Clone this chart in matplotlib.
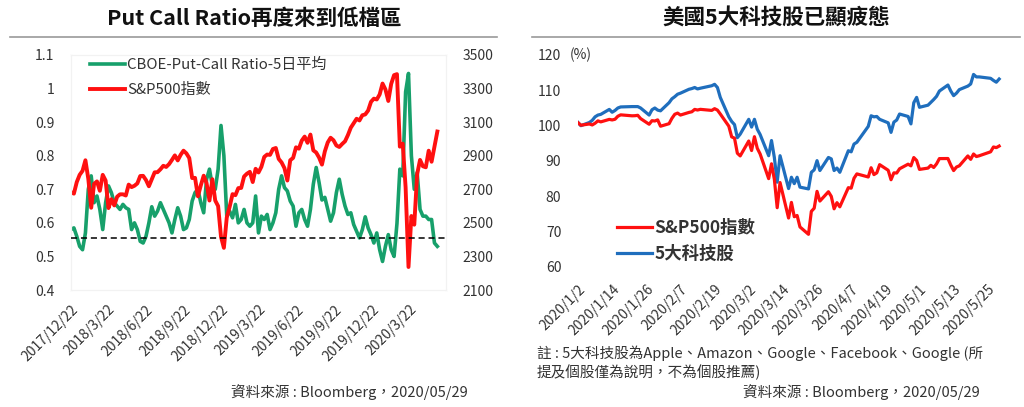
import matplotlib
matplotlib.use('Agg')
import matplotlib.pyplot as plt
import matplotlib.ticker as mticker
import pandas as pd

plt.rcParams['font.family'] = ['Noto Sans CJK TC', 'DejaVu Sans']

# ---------------- Left chart data (weekly, Fridays from 2017/12/22) ----------------
pcr_start = '2017-12-22'
pcr_5d_avg = [
    0.58, 0.585, 0.56, 0.53, 0.52, 0.57, 0.70, 0.74, 0.66, 0.68,
    0.64, 0.58, 0.66, 0.71, 0.69, 0.66, 0.65, 0.64, 0.655, 0.645,
    0.64, 0.58, 0.60, 0.58, 0.545, 0.54, 0.56, 0.60, 0.648, 0.62,
    0.635, 0.66, 0.64, 0.62, 0.60, 0.57, 0.61, 0.645, 0.62, 0.58,
    0.585, 0.61, 0.665, 0.69, 0.70, 0.66, 0.63, 0.73, 0.76, 0.71,
    0.70, 0.76, 0.89, 0.80, 0.62, 0.635, 0.615, 0.655, 0.60, 0.61,
    0.64, 0.60, 0.59, 0.60, 0.68, 0.57, 0.62, 0.61, 0.625, 0.58,
    0.60, 0.63, 0.70, 0.74, 0.705, 0.695, 0.665, 0.65, 0.59, 0.63,
    0.64, 0.61, 0.59, 0.64, 0.715, 0.765, 0.72, 0.668, 0.676, 0.64,
    0.605, 0.63, 0.69, 0.73, 0.685, 0.65, 0.625, 0.63, 0.595, 0.575,
    0.555, 0.58, 0.618, 0.585, 0.565, 0.54, 0.57, 0.52, 0.485, 0.53,
    0.565, 0.52, 0.50, 0.598, 0.76, 0.74, 0.99, 1.045, 0.80, 0.70,
    0.75, 0.64, 0.62, 0.62, 0.61, 0.61, 0.54, 0.53,
]
spx_weekly = [
    2683, 2674, 2743, 2786, 2810, 2873, 2762, 2590, 2732, 2747,
    2691, 2786, 2752, 2588, 2641, 2604, 2656, 2670, 2670, 2663,
    2728, 2713, 2721, 2735, 2779, 2780, 2755, 2718, 2760, 2801,
    2802, 2819, 2840, 2833, 2850, 2875, 2902, 2872, 2905, 2930,
    2914, 2886, 2767, 2768, 2658, 2723, 2781, 2736, 2633, 2760,
    2633, 2600, 2417, 2351, 2532, 2596, 2671, 2665, 2707, 2708,
    2776, 2793, 2804, 2743, 2822, 2800, 2834, 2893, 2907, 2905,
    2940, 2946, 2881, 2860, 2826, 2752, 2873, 2887, 2950, 2942,
    2990, 3014, 2977, 3026, 2932, 2919, 2889, 2847, 2926, 2979,
    3007, 2992, 2961, 2952, 2970, 2986, 3023, 3067, 3093, 3120,
    3110, 3141, 3146, 3169, 3221, 3240, 3235, 3265, 3330, 3295,
    3226, 3328, 3380, 3386, 2954, 2972, 2711, 2237, 2541, 2489,
    2790, 2875, 2837, 2831, 2930, 2864, 2955, 3044,
]
pcr_low_zone = 0.555
left_xticks = ['2017-12-22', '2018-03-22', '2018-06-22', '2018-09-22', '2018-12-22',
               '2019-03-22', '2019-06-22', '2019-09-22', '2019-12-22', '2020-03-22']

# ---------------- Right chart data (daily, index 2019/12/31 = 100) ----------------
trade_dates = (
    ['2020-01-%02d' % d for d in [2, 3, 6, 7, 8, 9, 10, 13, 14, 15, 16, 17, 21, 22, 23, 24, 27, 28, 29, 30, 31]] +
    ['2020-02-%02d' % d for d in [3, 4, 5, 6, 7, 10, 11, 12, 13, 14, 18, 19, 20, 21, 24, 25, 26, 27, 28]] +
    ['2020-03-%02d' % d for d in [2, 3, 4, 5, 6, 9, 10, 11, 12, 13, 16, 17, 18, 19, 20, 23, 24, 25, 26, 27, 30, 31]] +
    ['2020-04-%02d' % d for d in [1, 2, 3, 6, 7, 8, 9, 13, 14, 15, 16, 17, 20, 21, 22, 23, 24, 27, 28, 29, 30]] +
    ['2020-05-%02d' % d for d in [1, 4, 5, 6, 7, 8, 11, 12, 13, 14, 15, 18, 19, 20, 21, 22, 26, 27, 28, 29]]
)
spx_rel = [
    100.84, 100.13, 100.48, 100.20, 100.69, 101.36, 101.07, 101.78, 101.62, 101.81,
    102.66, 103.06, 102.79, 102.82, 102.93, 102.00, 100.40, 101.41, 101.32, 101.64, 99.84,
    100.56, 102.07, 103.22, 103.56, 103.00, 103.75, 103.93, 104.60, 104.43, 104.62,
    104.32, 104.81, 104.41, 103.31, 99.85, 96.83, 96.46, 92.20, 91.44,
    95.65, 92.96, 96.88, 93.60, 92.00, 85.01, 89.21, 84.85, 76.78, 83.91,
    73.86, 78.28, 74.23, 74.58, 71.34, 69.25, 75.75, 76.62, 81.41, 78.66, 81.30, 80.00,
    76.47, 78.21, 77.03, 82.45, 82.31, 85.12, 86.35, 85.48, 88.09, 86.15,
    86.65, 88.97, 87.38, 84.70, 86.64, 86.60, 87.80, 89.10, 88.63, 90.98, 90.15,
    87.62, 87.99, 88.78, 88.17, 89.18, 90.68, 90.70, 88.84, 87.29, 88.29,
    88.64, 91.43, 90.47, 91.98, 91.26, 91.48, 92.60, 93.97, 93.78, 94.23,
]
tech5_rel = [
    100.9, 100.0, 100.9, 101.5, 102.5, 103.0, 103.2, 104.6, 103.8, 104.3,
    105.0, 105.3, 105.4, 105.4, 105.4, 105.0, 103.0, 104.5, 105.0, 104.4, 104.2,
    106.5, 107.6, 108.2, 108.9, 109.2, 110.3, 110.5, 110.8, 110.4, 110.6,
    111.3, 111.7, 110.8, 108.0, 102.5, 101.2, 100.3, 96.6, 97.6,
    101.8, 99.6, 101.8, 99.0, 97.5, 91.5, 95.8, 91.0, 84.0, 91.5,
    82.2, 85.4, 83.6, 85.4, 82.6, 82.1, 86.8, 87.5, 90.1, 87.3, 91.0, 90.6,
    87.3, 88.0, 86.8, 92.9, 92.6, 94.8, 95.3, 99.8, 102.8, 102.5,
    102.6, 101.8, 100.8, 98.1, 101.0, 101.6, 103.3, 102.6, 100.5, 106.5, 108.0,
    105.2, 105.8, 106.6, 107.4, 108.3, 109.8, 111.5, 109.8, 108.5, 109.2,
    110.2, 111.2, 111.8, 114.5, 113.8, 113.8, 113.4, 112.8, 112.3, 113.2,
]
right_xtick_step_days = 12

GREEN = '#17A06B'
RED = '#FF1010'
BLUE = '#1F6EBD'
TXT = '#333333'

W, H = 1024, 407
fig = plt.figure(figsize=(W / 100, H / 100), dpi=100)


def fx(px):
    return px / W


def fy(py):
    return 1 - py / H


# Titles and separators
fig.text(fx(254), fy(18), 'Put Call Ratio再度來到低檔區', ha='center', va='center',
         fontsize=15.5, fontweight='bold', color='#111111')
fig.text(fx(776), fy(18), '美國5大科技股已顯疲態', ha='center', va='center',
         fontsize=15.5, fontweight='bold', color='#111111')
fig.add_artist(plt.Line2D([fx(10), fx(497)], [fy(37), fy(37)], color='#9a9a9a', lw=1.2))
fig.add_artist(plt.Line2D([fx(532), fx(1020)], [fy(37), fy(37)], color='#9a9a9a', lw=1.2))

# ---------------- Left chart ----------------
dates_l = pd.date_range(pcr_start, periods=len(pcr_5d_avg), freq='7D')
axL = fig.add_axes([fx(71), fy(290), fx(446) - fx(71), fy(55) - fy(290)])
axR2 = axL.twinx()
lg, = axL.plot(dates_l, pcr_5d_avg, color=GREEN, lw=2.6, solid_joinstyle='round',
               label='CBOE-Put-Call Ratio-5日平均')
lr, = axR2.plot(dates_l, spx_weekly, color=RED, lw=2.8, solid_joinstyle='round',
                label='S&P500指數')
axR2.axhline(2100 + (pcr_low_zone - 0.4) / 0.7 * 1400, color='black', lw=1.1,
             ls=(0, (4, 2.5)), zorder=5)

axL.set_ylim(0.4, 1.1)
axR2.set_ylim(2100, 3500)
axL.set_yticks([0.4, 0.5, 0.6, 0.7, 0.8, 0.9, 1.0, 1.1])
axL.yaxis.set_major_formatter(mticker.FuncFormatter(lambda v, p: ('%g' % round(v, 2))))
axR2.set_yticks(range(2100, 3501, 200))
axL.set_xlim(pd.Timestamp(pcr_start), pd.Timestamp('2020-06-19'))
axL.set_xticks(pd.to_datetime(left_xticks))
axL.set_xticklabels([pd.Timestamp(d).strftime('%Y/%-m/%-d') for d in left_xticks],
                    rotation=45, ha='right', va='top', rotation_mode='anchor')
for a in (axL, axR2):
    for s in a.spines.values():
        s.set_color('#f2f2f2')
        s.set_linewidth(0.8)
    a.tick_params(length=0, labelsize=10, colors=TXT)
axL.tick_params(axis='y', pad=12)
axR2.tick_params(axis='y', pad=12)
axL.tick_params(axis='x', pad=9)
axL.legend([lg, lr], [lg.get_label(), lr.get_label()], loc='upper left',
           bbox_to_anchor=(0.015, 1.045), frameon=False, fontsize=10.8,
           handlelength=2.3, handletextpad=0.15, labelspacing=0.7,
           labelcolor=TXT)

fig.text(fx(468), fy(392), '資料來源 : Bloomberg，2020/05/29', ha='right', va='center',
         fontsize=10.5, color=TXT)

# ---------------- Right chart ----------------
dates_r = pd.to_datetime(trade_dates)
axB = fig.add_axes([fx(578), fy(267), fx(1002) - fx(578), fy(55) - fy(267)])
l1, = axB.plot(dates_r, spx_rel, color=RED, lw=2.3, label='S&P500指數', zorder=3)
l2, = axB.plot(dates_r, tech5_rel, color=BLUE, lw=2.3, label='5大科技股', zorder=2)
axB.set_ylim(60, 120)
axB.set_yticks(range(60, 121, 10))
start_r = dates_r[0]
axB.set_xlim(start_r, dates_r[-1] + pd.Timedelta(days=1))
rticks = pd.date_range(start_r, dates_r[-1], freq='%dD' % right_xtick_step_days)
axB.set_xticks(rticks)
axB.set_xticklabels([d.strftime('%Y/%-m/%-d') for d in rticks], rotation=45,
                    ha='right', va='top', rotation_mode='anchor')
for s in axB.spines.values():
    s.set_visible(False)
axB.tick_params(length=0, labelsize=10, colors=TXT)
axB.tick_params(axis='y', pad=12)
axB.tick_params(axis='x', pad=11)
fig.text(fx(570), fy(55), '(%)', ha='left', va='center', fontsize=10, color=TXT)
axB.legend([l1, l2], ['S&P500指數', '5大科技股'], loc='upper left',
           bbox_to_anchor=(0.055, 0.30), frameon=False,
           prop={'size': 12.5, 'weight': 'bold'}, handlelength=2.0,
           handletextpad=0.15, labelspacing=0.45, labelcolor=TXT)

fig.text(fx(537), fy(353), '註 : 5大科技股為Apple、Amazon、Google、Facebook、Google (所',
         ha='left', va='center', fontsize=10.5, color=TXT)
fig.text(fx(537), fy(372), '提及個股僅為說明，不為個股推薦)',
         ha='left', va='center', fontsize=10.5, color=TXT)
fig.text(fx(980), fy(392), '資料來源 : Bloomberg，2020/05/29', ha='right', va='center',
         fontsize=10.5, color=TXT)

fig.savefig('out.png', dpi=100)
